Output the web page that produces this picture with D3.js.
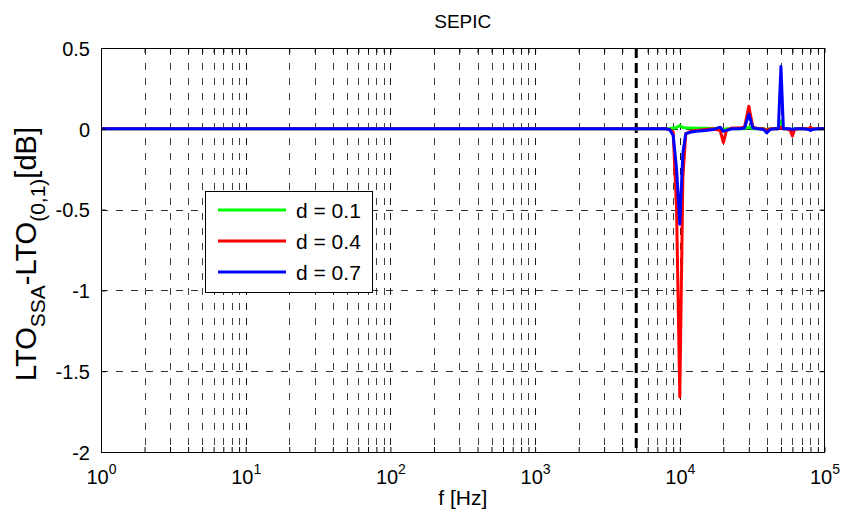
<!DOCTYPE html>
<html>
<head>
<meta charset="utf-8">
<script src="https://cdn.jsdelivr.net/npm/d3@7"></script>
<style>
  body { margin: 0; background: #fff; }
  svg { display: block; font-family: Arial, "Liberation Sans", sans-serif; }
</style>
</head>
<body>
<svg id="chart" width="847" height="516"></svg>
<script>
// ---------------- data ----------------
const freq = [1, 5000, 8000, 8500, 9000, 9500, 10000, 10500, 11000, 12000, 13000, 15000, 17000,
  19000, 20000, 21000, 23000, 26000, 28000, 30000, 32000, 35000, 38000, 40000, 42000, 45000,
  48000, 50000, 52000, 55000, 58000, 60000, 62000, 66000, 72000, 78000, 80000, 82000, 90000, 100000];

const d01 = [0, 0, 0, 0, 0.005, 0.008, 0.02, 0.008, 0.006, 0.005, 0.004, 0.003, 0.002,
  0, -0.005, 0, 0, 0, 0, 0.01, 0, 0, 0, -0.005, 0, 0,
  0, 0.05, 0, 0, -0.005, -0.005, 0, 0, 0, 0, 0.005, 0, 0, 0];

const d04 = [0, 0, 0, -0.005, -0.02, -0.5, -1.66, -0.3, -0.03, -0.015, -0.01, -0.005, 0,
  -0.01, -0.085, -0.01, 0.005, 0.005, 0.01, 0.14, 0.01, 0, 0, -0.01, 0, 0,
  0, 0.01, 0, 0, -0.01, -0.045, -0.005, 0, 0, 0, 0.01, 0, 0, 0];

const d07 = [0, 0, 0, -0.005, -0.04, -0.25, -0.59, -0.15, -0.03, -0.02, -0.015, -0.01, -0.005,
  0.01, -0.015, -0.01, 0, 0, 0.005, 0.09, 0.005, 0, -0.005, -0.025, -0.005, 0,
  0, 0.385, 0, 0, 0, -0.005, 0, 0, 0, -0.005, -0.01, -0.005, 0, 0];

const seriesNames = ["d = 0.1", "d = 0.4", "d = 0.7"];
const seriesColors = ["#00ff00", "#ff0000", "#0000ff"];
const seriesValues = [d01, d04, d07];

const yTicks = [-2, -1.5, -1, -0.5, 0, 0.5];
const yTickLabels = ["-2", "-1.5", "-1", "-0.5", "0", "0.5"];
const xDecades = [1, 10, 100, 1000, 10000, 100000];
const xExponents = ["0", "1", "2", "3", "4", "5"];
const markerFreq = 5000;

const titleText = "SEPIC";
const xLabelText = "f [Hz]";

// ---------------- layout ----------------
const L = 101, R = 824.5, T = 48, B = 452;
const svg = d3.select("#chart");
const x = d3.scaleLog().domain([1, 1e5]).range([L, R]);
const y = d3.scaleLinear().domain([-2, 0.5]).range([B, T]);

const minorX = [];
for (let e = 0; e < 5; e++) for (let k = 2; k <= 9; k++) minorX.push(k * Math.pow(10, e));
const allX = xDecades.concat(minorX).sort((a, b) => a - b);

// grid
const grid = svg.append("g").attr("shape-rendering", "crispEdges");
grid.selectAll("line.vx").data(allX.filter(v => v > 1 && v < 1e5)).enter().append("line")
  .attr("x1", d => Math.round(x(d)) + 0.5).attr("x2", d => Math.round(x(d)) + 0.5)
  .attr("y1", T).attr("y2", B)
  .attr("stroke", "#000").attr("stroke-width", 1)
  .attr("stroke-opacity", d => xDecades.includes(d) ? 0.9 : 0.75)
  .attr("stroke-dasharray", "7,8");
grid.selectAll("line.hy").data(yTicks.filter(v => v > -2 && v < 0.5)).enter().append("line")
  .attr("x1", L).attr("x2", R)
  .attr("y1", d => Math.round(y(d)) + 0.5).attr("y2", d => Math.round(y(d)) + 0.5)
  .attr("stroke", "#000").attr("stroke-width", 1).attr("stroke-opacity", 0.8)
  .attr("stroke-dasharray", "7,8");

// marker line at 5 kHz
svg.append("line")
  .attr("x1", x(markerFreq)).attr("x2", x(markerFreq))
  .attr("y1", T).attr("y2", B)
  .attr("stroke", "#000").attr("stroke-width", 3)
  .attr("stroke-dasharray", "10,5");

// series
const lineGen = d3.line().x((d, i) => x(freq[i])).y(d => y(d));
seriesValues.forEach((vals, si) => {
  svg.append("path").datum(vals)
    .attr("d", lineGen)
    .attr("fill", "none")
    .attr("stroke", seriesColors[si])
    .attr("stroke-width", 3)
    .attr("stroke-linejoin", "round");
});

// axes (inside ticks)
const fmtX = d => "";
const axB = svg.append("g").attr("transform", `translate(0,${B})`)
  .call(d3.axisBottom(x).tickValues(allX).tickSize(-5).tickPadding(13).tickFormat(fmtX));
const axT = svg.append("g").attr("transform", `translate(0,${T})`)
  .call(d3.axisTop(x).tickValues(allX).tickSize(-5).tickFormat(fmtX));
const axL = svg.append("g").attr("transform", `translate(${L},0)`)
  .call(d3.axisLeft(y).tickValues(yTicks).tickSize(-5).tickPadding(11)
    .tickFormat((d, i) => yTickLabels[i]));
const axR = svg.append("g").attr("transform", `translate(${R},0)`)
  .call(d3.axisRight(y).tickValues(yTicks).tickSize(-5).tickFormat(() => ""));

[axB, axT, axL, axR].forEach(g => {
  g.select(".domain").remove();
  g.selectAll("line").attr("stroke", "#000").attr("stroke-width", 1);
  g.selectAll("text").attr("font-family", "Arial, 'Liberation Sans', sans-serif")
    .attr("font-size", 20).attr("fill", "#000");
});
axL.selectAll("text").attr("dy", "0.36em");

// x labels with superscripts
axB.selectAll(".tick").each(function (d) {
  const idx = xDecades.indexOf(d);
  const t = d3.select(this).select("text");
  if (idx < 0) { t.remove(); return; }
  t.text(null).attr("dy", "0.95em");
  t.append("tspan").text("10");
  t.append("tspan").text(xExponents[idx]).attr("font-size", 14).attr("dy", -10);
});

// box
svg.append("rect").attr("x", L).attr("y", T).attr("width", R - L).attr("height", B - T)
  .attr("fill", "none").attr("stroke", "#000").attr("stroke-width", 1)
  .attr("shape-rendering", "crispEdges");

// title & labels
svg.append("text").attr("x", (L + R) / 2).attr("y", 28).attr("text-anchor", "middle")
  .attr("font-size", 19).text(titleText);
svg.append("text").attr("x", (L + R) / 2).attr("y", 505).attr("text-anchor", "middle")
  .attr("font-size", 21).text(xLabelText);

const yl = svg.append("text").attr("transform", "translate(36,254) rotate(-90)")
  .attr("text-anchor", "middle").attr("font-size", 29);
yl.append("tspan").text("LTO");
yl.append("tspan").text("SSA").attr("font-size", 21).attr("dy", 9);
yl.append("tspan").text("-LTO").attr("dy", -9);
yl.append("tspan").text("(0,1)").attr("font-size", 21).attr("dy", 9);
yl.append("tspan").text("[dB]").attr("dy", -9);

// legend
const lg = svg.append("g");
lg.append("rect").attr("x", 205.5).attr("y", 191.5).attr("width", 167).attr("height", 101)
  .attr("fill", "#fff").attr("stroke", "#000").attr("stroke-width", 1);
seriesNames.forEach((name, i) => {
  const yy = 210 + i * 31;
  lg.append("line").attr("x1", 218).attr("x2", 286).attr("y1", yy).attr("y2", yy)
    .attr("stroke", seriesColors[i]).attr("stroke-width", 3);
  lg.append("text").attr("x", 296).attr("y", yy + 7.5).attr("font-size", 21).text(name);
});
</script>
</body>
</html>
